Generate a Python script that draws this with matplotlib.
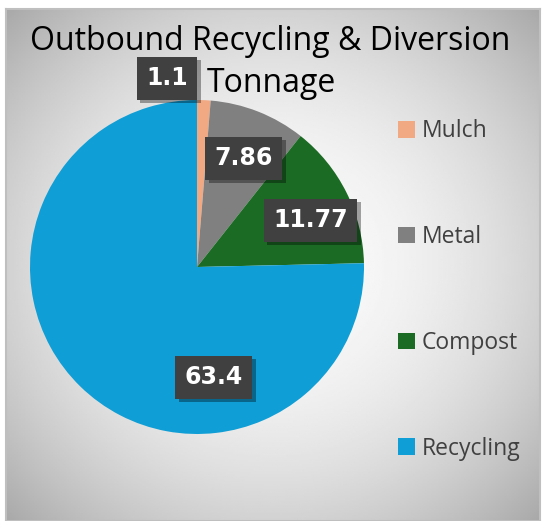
import numpy as np
import matplotlib.pyplot as plt
import matplotlib.patheffects as pe

# data
labels = ['Mulch', 'Metal', 'Compost', 'Recycling']
values = [1.1, 7.86, 11.77, 63.4]
colors = ['#F1A983', '#808080', '#1B6B24', '#0F9ED5']
value_text = ['1.1', '7.86', '11.77', '63.4']
# where excel put the data labels (pie data coords)
label_pos = [(-0.18, 1.13), (0.28, 0.65), (0.68, 0.28), (0.10, -0.66)]

W, H = 546, 521
fig = plt.figure(figsize=(W / 100, H / 100), dpi=100)
fig.patch.set_facecolor('white')

# gradient panel
bg = fig.add_axes([6 / W, 0, (540 - 6) / W, (521 - 9) / H])
yy, xx = np.mgrid[-1:1:300j, -1:1:300j]
rr = np.sqrt((xx * 0.9) ** 2 + (yy * 0.9) ** 2)
grad = 0.985 - 0.20 * np.clip(rr, 0, 1.3) ** 2
bg.imshow(grad, cmap='gray', vmin=0, vmax=1, aspect='auto', extent=[0, 1, 0, 1])
bg.set_xticks([])
bg.set_yticks([])
for s in bg.spines.values():
    s.set_color('#BFBFBF')
    s.set_linewidth(1.5)

# pie
cx, cy, r = 197, 267, 167
ax = fig.add_axes([(cx - r) / W, (H - cy - r) / H, 2 * r / W, 2 * r / H])
wedges, _ = ax.pie(values, colors=colors, startangle=90, counterclock=False,
                   radius=1, wedgeprops=dict(linewidth=0))
ax.set_xlim(-1, 1)
ax.set_ylim(-1, 1)
ax.set_aspect('equal')
ax.axis('off')

for (px, py), t in zip(label_pos, value_text):
    txt = ax.text(px, py, t, ha='center', va='center', fontsize=17, fontweight='bold',
                  color='white', family='DejaVu Sans',
                  bbox=dict(boxstyle='square,pad=0.4', fc='#404040', ec='none'),
                  clip_on=False)
    txt.get_bbox_patch().set_path_effects(
        [pe.SimplePatchShadow(offset=(2.5, -2.5), shadow_rgbFace='black', alpha=0.35), pe.Normal()])

# title
fig.text(270 / W, 1 - 42 / H, 'Outbound Recycling & Diversion', ha='center',
         va='center', fontsize=23, family='Open Sans', color='black')
fig.text(271 / W, 1 - 84 / H, 'Tonnage', ha='center', va='center', fontsize=23,
         family='Open Sans', color='black', zorder=0)

# legend
leg = fig.legend(wedges, labels, loc='center left', bbox_to_anchor=(377 / W, 1 - 290 / H),
                 frameon=False, handlelength=0.75, handleheight=0.75,
                 handletextpad=0.3, labelspacing=3.57, prop={'family': 'Open Sans', 'size': 16.5})
for t in leg.get_texts():
    t.set_color('#404040')

fig.savefig('out.png', dpi=100)
